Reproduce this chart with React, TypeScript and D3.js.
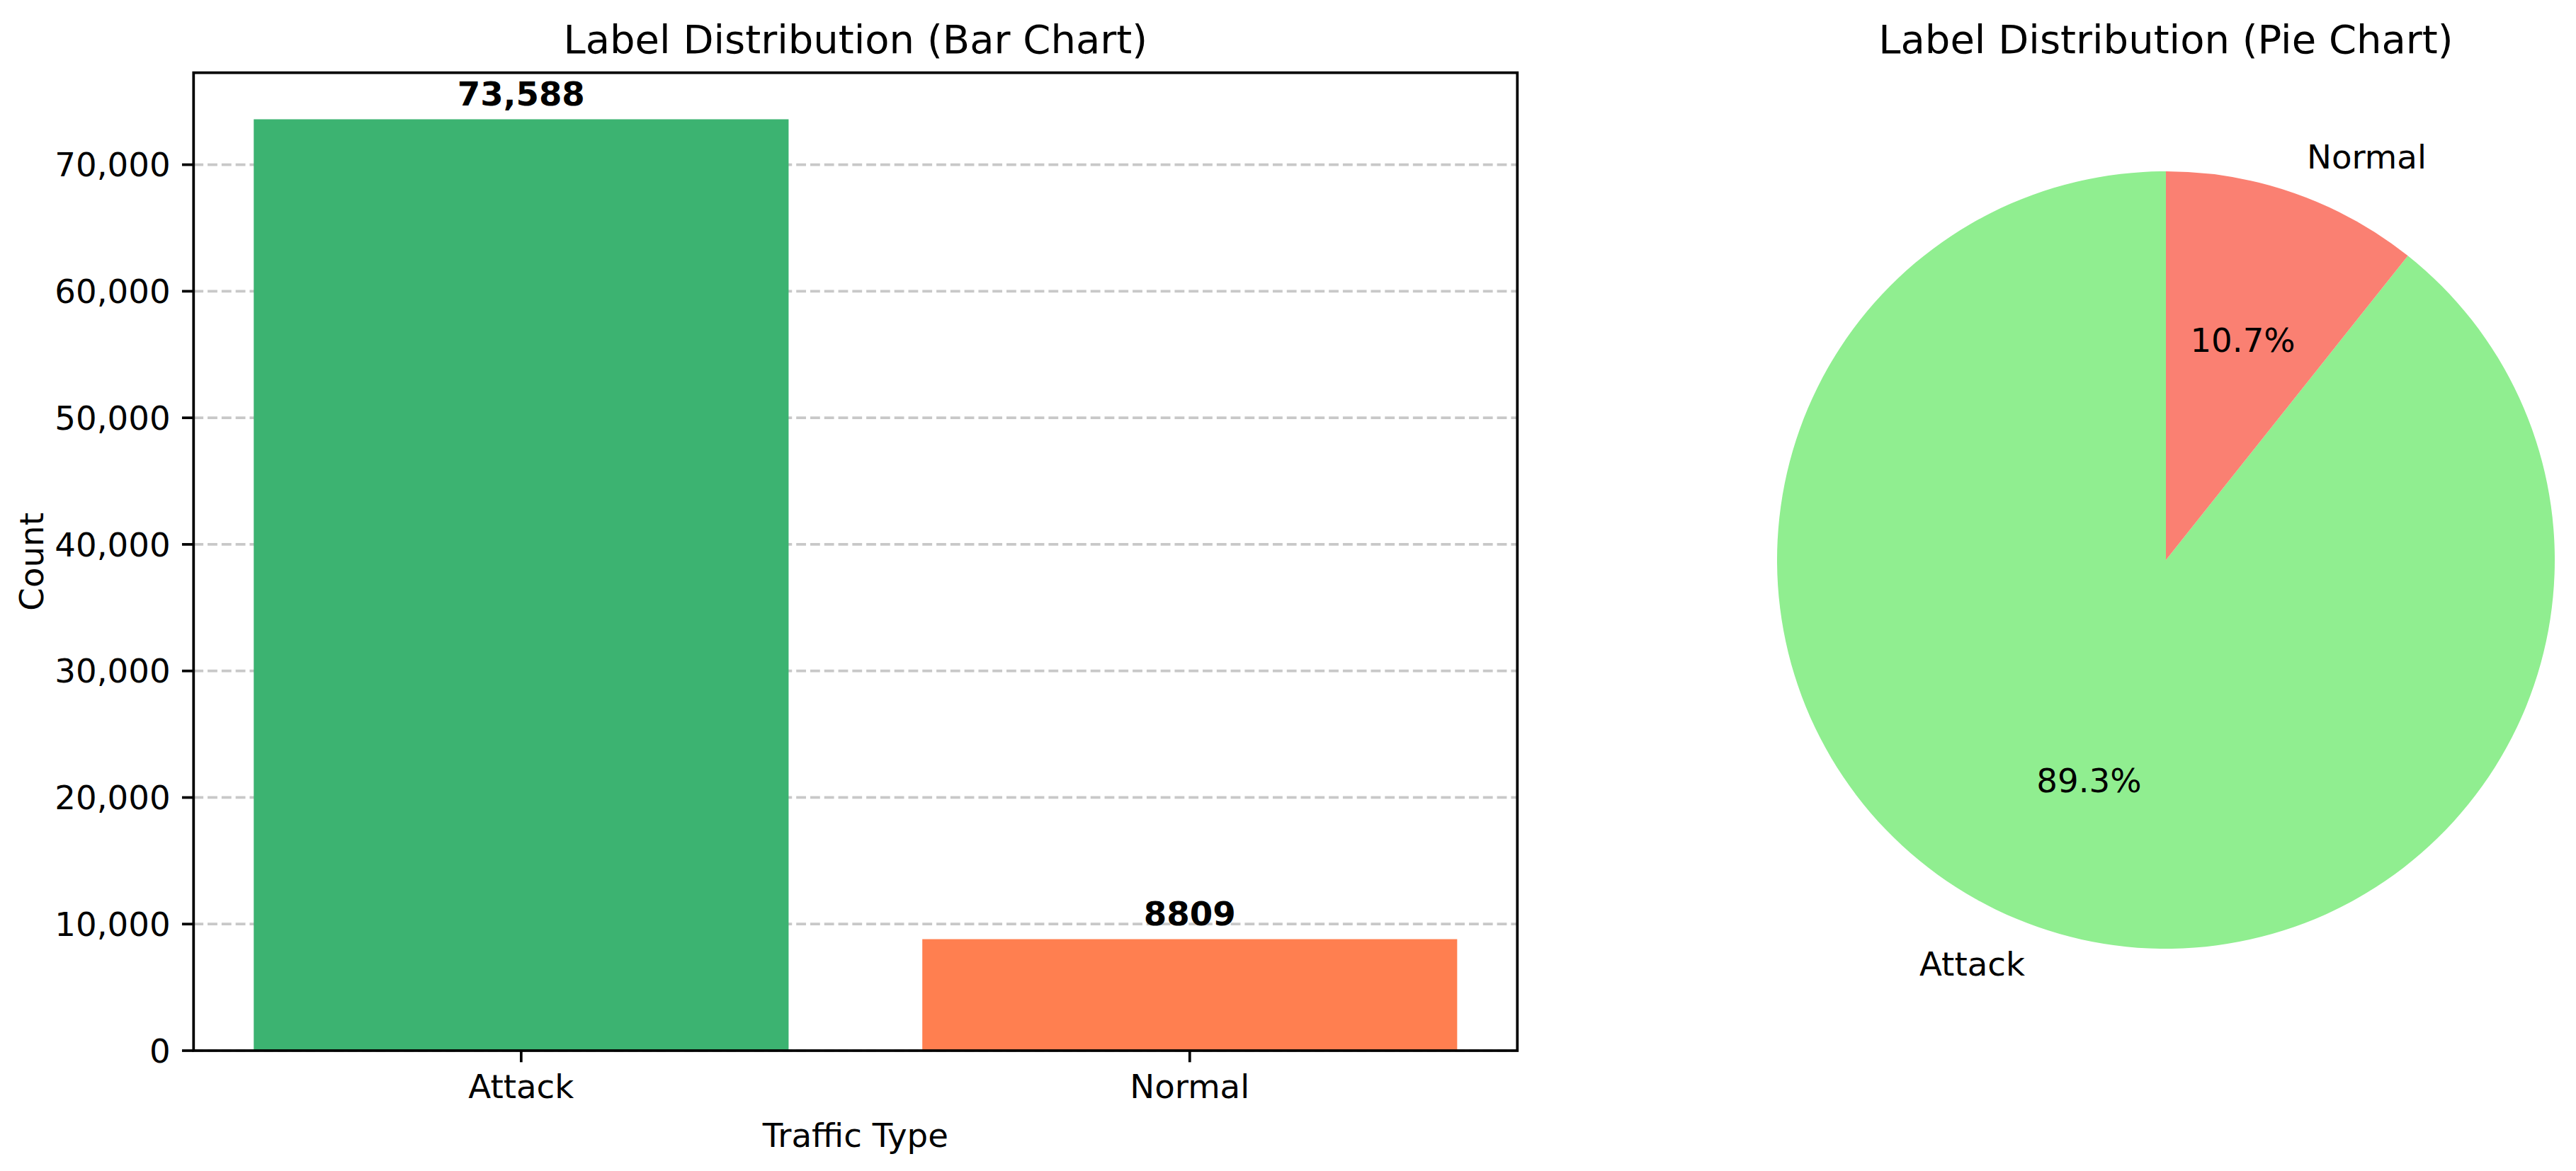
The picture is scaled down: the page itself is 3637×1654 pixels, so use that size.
import React from "react"
import * as d3 from "d3"

// data
const categories = ["Attack", "Normal"]
const counts = [73588, 8809]
const countLabels = ["73,588", "8809"]
const barColors = ["#3cb371", "#ff7f50"]
const pieColors = ["#90ee90", "#fa8072"]
const yTicks = [0, 10000, 20000, 30000, 40000, 50000, 60000, 70000]

const W = 3637
const H = 1654
const PT = 4.667 // px per point in the reference
const FONT = "DejaVu Sans, Liberation Sans, sans-serif"

const bar = { left: 273.3, right: 2142.3, top: 102.7, bottom: 1484 }
const pie = { cx: 3058, cy: 791, r: 549 }

interface Slice {
  name: string
  value: number
  color: string
}

const App: React.FC = () => {
  const x = d3.scaleLinear().domain([-0.49, categories.length - 1 + 0.49]).range([bar.left, bar.right])
  const y = d3
    .scaleLinear()
    .domain([0, d3.max(counts)! * 1.05])
    .range([bar.bottom, bar.top])
  const fmt = d3.format(",")
  const tickLen = 3.5 * PT
  const lw = 0.8 * PT
  const fs = 10 * PT
  const titleFs = 12 * PT

  const slices: Slice[] = categories.map((c, i) => ({ name: c, value: counts[i], color: pieColors[i] }))
  const total = d3.sum(counts)
  // matplotlib: startangle=90, counter clockwise
  const pieGen = d3
    .pie<Slice>()
    .value((d) => d.value)
    .sort(null)
    .startAngle(0)
    .endAngle(-2 * Math.PI)
  const arcs = pieGen(slices)
  const wedge = d3.arc<d3.PieArcDatum<Slice>>().innerRadius(0).outerRadius(pie.r)
  const labelArc = d3.arc<d3.PieArcDatum<Slice>>().innerRadius(pie.r * 1.1).outerRadius(pie.r * 1.1)
  const pctArc = d3.arc<d3.PieArcDatum<Slice>>().innerRadius(pie.r * 0.6).outerRadius(pie.r * 0.6)

  return (
    <svg
      width={W}
      height={H}
      style={{ position: "absolute", left: 0, top: 0, display: "block", background: "white" }}
      fontFamily={FONT}
    >
      {/* ---- bar chart ---- */}
      <g>
        {yTicks.map((t) => (
          <line
            key={"g" + t}
            x1={bar.left}
            x2={bar.right}
            y1={y(t)}
            y2={y(t)}
            stroke="#b0b0b0"
            strokeOpacity={0.7}
            strokeWidth={lw}
            strokeDasharray={`${3.7 * lw},${1.6 * lw}`}
          />
        ))}
        {counts.map((v, i) => (
          <rect
            key={"b" + i}
            x={x(i - 0.4)}
            width={x(0.4) - x(-0.4)}
            y={y(v)}
            height={y(0) - y(v)}
            fill={barColors[i]}
          />
        ))}
        {counts.map((v, i) => (
          <text
            key={"v" + i}
            x={x(i)}
            y={y(v + 500) - 11}
            textAnchor="middle"
            fontSize={fs}
            fontWeight="bold"
            fill="black"
          >
            {countLabels[i]}
          </text>
        ))}
        <rect
          x={bar.left}
          y={bar.top}
          width={bar.right - bar.left}
          height={bar.bottom - bar.top}
          fill="none"
          stroke="black"
          strokeWidth={lw}
        />
        {yTicks.map((t) => (
          <g key={"yt" + t}>
            <line x1={bar.left - tickLen} x2={bar.left} y1={y(t)} y2={y(t)} stroke="black" strokeWidth={lw} />
            <text
              x={bar.left - 2 * tickLen}
              y={y(t)}
              dy="0.36em"
              textAnchor="end"
              fontSize={fs}
              fill="black"
            >
              {fmt(t)}
            </text>
          </g>
        ))}
        {categories.map((c, i) => (
          <g key={"xt" + c}>
            <line x1={x(i)} x2={x(i)} y1={bar.bottom} y2={bar.bottom + tickLen} stroke="black" strokeWidth={lw} />
            <text x={x(i)} y={1551} textAnchor="middle" fontSize={fs} fill="black">
              {c}
            </text>
          </g>
        ))}
        <text x={(bar.left + bar.right) / 2} y={1619.5} textAnchor="middle" fontSize={fs} fill="black">
          Traffic Type
        </text>
        <text
          transform={`translate(61,${(bar.top + bar.bottom) / 2}) rotate(-90)`}
          textAnchor="middle"
          fontSize={fs}
          fill="black"
        >
          Count
        </text>
        <text x={(bar.left + bar.right) / 2} y={74.5} textAnchor="middle" fontSize={titleFs} fill="black">
          Label Distribution (Bar Chart)
        </text>
      </g>

      {/* ---- pie chart ---- */}
      <g transform={`translate(${pie.cx},${pie.cy})`}>
        {arcs.map((a) => (
          <path key={"p" + a.data.name} d={wedge(a) ?? ""} fill={a.data.color} />
        ))}
        {arcs.map((a) => {
          const [lx, ly] = labelArc.centroid(a)
          return (
            <text
              key={"l" + a.data.name}
              x={lx}
              y={ly}
              dy="0.36em"
              textAnchor={lx < 0 ? "end" : "start"}
              fontSize={fs}
              fill="black"
            >
              {a.data.name}
            </text>
          )
        })}
        {arcs.map((a) => {
          const [px, py] = pctArc.centroid(a)
          return (
            <text key={"pc" + a.data.name} x={px} y={py} dy="0.36em" textAnchor="middle" fontSize={fs} fill="black">
              {((a.data.value / total) * 100).toFixed(1)}%
            </text>
          )
        })}
        <text x={0} y={74.5 - pie.cy} textAnchor="middle" fontSize={titleFs} fill="black">
          Label Distribution (Pie Chart)
        </text>
      </g>
    </svg>
  )
}

export default App
